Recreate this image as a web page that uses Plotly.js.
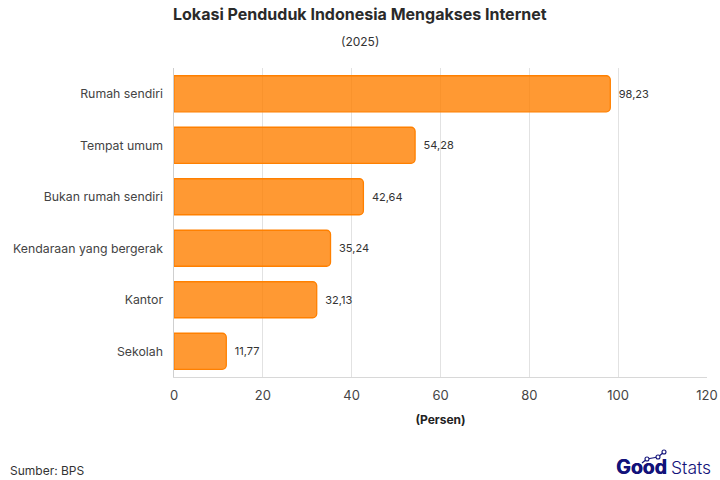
<!DOCTYPE html>
<html><head><meta charset="utf-8">
<script src="https://cdn.plot.ly/plotly-3.0.1.min.js"></script>
<style>html,body{margin:0;padding:0;background:#fff}</style></head>
<body><div id="chart" style="width:720px;height:480px"></div>
<script>
const categories = ["Rumah sendiri","Tempat umum","Bukan rumah sendiri","Kendaraan yang bergerak","Kantor","Sekolah"];
const values = [98.23,54.28,42.64,35.24,32.13,11.77];
const labels = ["98,23","54,28","42,64","35,24","32,13","11,77"];
const xTicks = [0,20,40,60,80,100,120];
const F = "Inter, 'Noto Sans', sans-serif";
const navy = "#12127a";
const L=174,R=13,T=68,B=103,W=720-L-R,H=480-T-B;
const px = x => (x-L)/W, py = y => 1-(y-T)/H;
const logoPts = [[642,463],[647,459],[658,457],[664,452]];
const shapes = [];
for (let i=0;i<logoPts.length-1;i++) shapes.push({type:"line",xref:"paper",yref:"paper",
  x0:px(logoPts[i][0]),y0:py(logoPts[i][1]),x1:px(logoPts[i+1][0]),y1:py(logoPts[i+1][1]),line:{color:navy,width:1.2}});
logoPts.slice(1).forEach(p=>shapes.push({type:"circle",xref:"paper",yref:"paper",
  x0:px(p[0]-2),x1:px(p[0]+2),y0:py(p[1]+2),y1:py(p[1]-2),fillcolor:"#fff",line:{color:navy,width:1.1}}));
Plotly.newPlot("chart",[{
  type:"bar",orientation:"h",x:values,y:categories,text:labels,textposition:"outside",
  texttemplate:"\u2002%{text}",
  textfont:{family:F,size:11,color:"#333"},cliponaxis:false,
  marker:{color:"rgba(255,128,0,0.8)",line:{color:"#ff8000",width:1.3}},
  hoverinfo:"skip"
}],{
  width:720,height:480,paper_bgcolor:"#fff",plot_bgcolor:"#fff",showlegend:false,
  margin:{l:L,r:R,t:T,b:B},bargap:0.3,barcornerradius:4,
  font:{family:F,color:"#333"},
  xaxis:{range:[0,120],tickvals:xTicks,ticktext:xTicks.map(String),showgrid:true,gridcolor:"#e2e2e2",gridwidth:1,
    zeroline:false,showline:true,linecolor:"#d8d8d8",linewidth:1,ticks:"outside",ticklen:6,tickcolor:"rgba(0,0,0,0)",
    tickfont:{family:F,size:13,color:"#444"},
    title:{text:"<b>(Persen)</b>",font:{family:F,size:12,color:"#222"},standoff:14}},
  yaxis:{categoryorder:"array",categoryarray:categories,autorange:"reversed",showgrid:false,zeroline:false,
    showline:true,linecolor:"#cfcfcf",linewidth:1.5,ticks:"",ticklabelstandoff:7,
    tickfont:{family:F,size:12.3,color:"#444"}},
  shapes:shapes,
  annotations:[
    {text:"<b>Lokasi Penduduk Indonesia Mengakses Internet</b>",xref:"paper",yref:"paper",x:px(360),y:py(14),xanchor:"center",yanchor:"middle",showarrow:false,font:{family:F,size:16,color:"#2a2a2a"}},
    {text:"(2025)",xref:"paper",yref:"paper",x:px(360),y:py(41),xanchor:"center",yanchor:"middle",showarrow:false,font:{family:F,size:12,color:"#333"}},
    {text:"Sumber: BPS",xref:"paper",yref:"paper",x:px(8),y:py(470),xanchor:"left",yanchor:"middle",showarrow:false,font:{family:F,size:12,color:"#333"}},
    {text:"<b>Good</b>",xref:"paper",yref:"paper",x:px(614),y:py(467),xanchor:"left",yanchor:"middle",showarrow:false,font:{family:F,size:19.5,color:navy,shadow:"0.5px 0 0 #12127a"}},
    {text:"Stats",xref:"paper",yref:"paper",x:px(713),y:py(467.5),xanchor:"right",yanchor:"middle",showarrow:false,font:{family:F,size:17.5,weight:300,color:navy}}
  ]
},{displayModeBar:false,staticPlot:true});
</script></body></html>
